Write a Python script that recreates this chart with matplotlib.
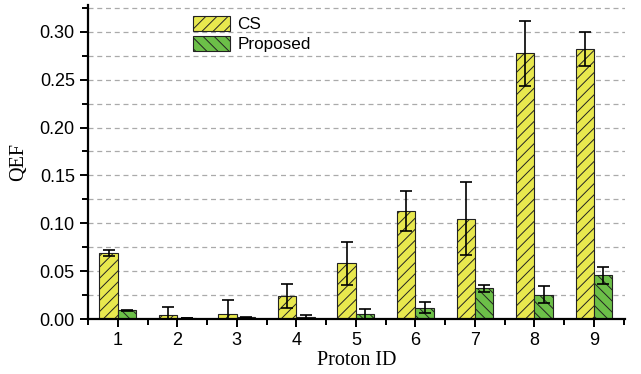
import numpy as np
import matplotlib
matplotlib.use("Agg")
import matplotlib.pyplot as plt
from matplotlib.ticker import MultipleLocator

# data
proton_ids = [1, 2, 3, 4, 5, 6, 7, 8, 9]
cs_mean = [0.069, 0.004, 0.005, 0.024, 0.058, 0.1125, 0.105, 0.2775, 0.282]
cs_err = [0.003, 0.009, 0.015, 0.013, 0.022, 0.021, 0.038, 0.034, 0.018]
prop_mean = [0.009, 0.001, 0.002, 0.002, 0.005, 0.012, 0.032, 0.0255, 0.0455]
prop_err = [0.0005, 0.0003, 0.0005, 0.002, 0.005, 0.0055, 0.004, 0.0085, 0.009]

plt.rcParams['hatch.linewidth'] = 0.7

fig = plt.figure(figsize=(6.41, 3.74), dpi=100)
ax = fig.add_axes([0.1373, 0.147, 0.8377, 0.8396])

x = np.array(proton_ids)
w = 0.31
ax.grid(axis='y', which='both', linestyle=(0, (4, 3)), color='#aaaaaa', linewidth=0.9)
ax.set_axisbelow(True)

ax.bar(x - w / 2, cs_mean, width=w, color='#E8E84E', edgecolor='#222222',
       linewidth=0.8, hatch='///', label='CS', zorder=2)
ax.bar(x + w / 2, prop_mean, width=w, color='#6CBF48', edgecolor='#222222',
       linewidth=0.8, hatch='\\\\\\', label='Proposed', zorder=2)
ax.errorbar(x - w / 2, cs_mean, yerr=cs_err, fmt='none', ecolor='black',
            elinewidth=1.2, capsize=4.5, capthick=1.2, zorder=3)
ax.errorbar(x + w / 2, prop_mean, yerr=prop_err, fmt='none', ecolor='black',
            elinewidth=1.2, capsize=4.5, capthick=1.2, zorder=3)

ax.set_xlim(0.5, 9.52)
ax.set_ylim(0, 0.328)
ax.set_xticks(proton_ids)
ax.xaxis.set_minor_locator(MultipleLocator(1, offset=0.5))
ax.yaxis.set_major_locator(MultipleLocator(0.05))
ax.yaxis.set_minor_locator(MultipleLocator(0.025))
ax.yaxis.set_major_formatter(matplotlib.ticker.FormatStrFormatter('%.2f'))

for s in ['top', 'right']:
    ax.spines[s].set_visible(False)
for s in ['left', 'bottom']:
    ax.spines[s].set_linewidth(1.6)

ax.tick_params(which='major', direction='out', length=6, width=1.4,
               labelsize=13, labelfontfamily='Liberation Sans')
ax.tick_params(which='minor', direction='out', length=4, width=1.4)

ax.set_xlabel('Proton ID', fontsize=14.5, family='Liberation Serif', labelpad=1)
ax.set_ylabel('QEF', fontsize=14.5, family='Liberation Serif', labelpad=8)

leg = ax.legend(loc='upper left', bbox_to_anchor=(0.195, 0.965), frameon=False,
                prop={'family': 'Liberation Sans', 'size': 12.3},
                handlelength=2.2, handleheight=1.0, handletextpad=0.4,
                labelspacing=0.2, borderaxespad=0, borderpad=0)

fig.savefig('out.png', dpi=100)
